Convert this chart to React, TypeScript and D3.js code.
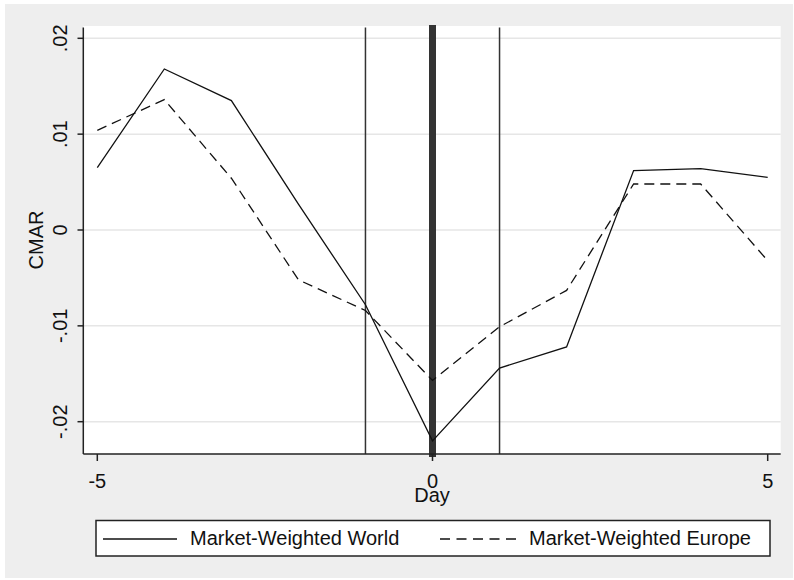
import React from "react";
import * as d3 from "d3";

const days = [-5, -4, -3, -2, -1, 0, 1, 2, 3, 4, 5];
const worldCMAR = [0.0065, 0.0168, 0.0135, 0.0027, -0.0078, -0.022, -0.0144, -0.0122, 0.0062, 0.0064, 0.0055];
const europeCMAR = [0.0104, 0.0136, 0.0054, -0.0052, -0.0084, -0.0157, -0.0101, -0.0063, 0.0048, 0.0048, -0.0032];
const xTicks = [-5, 0, 5];
const yTicks = [-0.02, -0.01, 0, 0.01, 0.02];
const yTickLabels = ["-.02", "-.01", "0", ".01", ".02"];
const eventDays = [-1, 0, 1];
const seriesNames = ["Market-Weighted World", "Market-Weighted Europe"];

const W = 794;
const H = 580;
const plot = { left: 83.3, right: 780.7, top: 26, bottom: 454 };

export default function App() {
  const x = d3.scaleLinear().domain([-5, 5]).range([97.3, 767.7]);
  const y = d3.scaleLinear().domain([-0.02, 0.02]).range([421.7, 38.3]);
  const line = d3
    .line<number>()
    .x((_, i) => x(days[i]))
    .y((d) => y(d));
  const font = "'Liberation Sans', Arial, sans-serif";
  const ink = "#111";
  const plotCx = (plot.left + plot.right) / 2;
  const plotCy = (plot.top + plot.bottom) / 2;

  return (
    <svg
      width={W}
      height={H}
      style={{ position: "absolute", left: 0, top: 0, background: "#fff" }}
      fontFamily={font}
    >
      <rect x={5} y={4} width={788} height={574} fill="#eeeeee" />
      <rect
        x={plot.left}
        y={plot.top}
        width={plot.right - plot.left}
        height={plot.bottom - plot.top}
        fill="#fff"
      />
      {yTicks.map((t) => (
        <line
          key={"g" + t}
          x1={plot.left}
          x2={plot.right}
          y1={y(t)}
          y2={y(t)}
          stroke="#e6e6e6"
          strokeWidth={1.5}
        />
      ))}
      {eventDays.map((d) => (
        <line
          key={"e" + d}
          x1={x(d)}
          x2={x(d)}
          y1={d === 0 ? 25 : 27.5}
          y2={d === 0 ? 457 : plot.bottom}
          stroke="#333"
          strokeWidth={d === 0 ? 7 : 1.5}
        />
      ))}
      <path d={line(worldCMAR) || ""} fill="none" stroke={ink} strokeWidth={1.3} />
      <path
        d={line(europeCMAR) || ""}
        fill="none"
        stroke={ink}
        strokeWidth={1.3}
        strokeDasharray="10,6"
      />
      {/* y axis */}
      <line x1={plot.left} x2={plot.left} y1={27.5} y2={plot.bottom} stroke="#222" strokeWidth={1.5} />
      {yTicks.map((t, i) => (
        <g key={"yt" + t}>
          <line x1={77.5} x2={plot.left} y1={y(t)} y2={y(t)} stroke="#222" strokeWidth={1.5} />
          <text
            transform={`translate(67,${y(t)}) rotate(-90)`}
            textAnchor="middle"
            fontSize={20}
            fill={ink}
          >
            {yTickLabels[i]}
          </text>
        </g>
      ))}
      <text
        transform={`translate(43.3,${plotCy}) rotate(-90)`}
        textAnchor="middle"
        fontSize={20}
        fill={ink}
      >
        CMAR
      </text>
      {/* x axis */}
      <line x1={plot.left} x2={plot.right} y1={plot.bottom} y2={plot.bottom} stroke="#222" strokeWidth={1.5} />
      {xTicks.map((t) => (
        <g key={"xt" + t}>
          <line x1={x(t)} x2={x(t)} y1={plot.bottom} y2={461} stroke="#222" strokeWidth={1.5} />
          <text x={x(t)} y={488} textAnchor="middle" fontSize={20} fill={ink}>
            {t}
          </text>
        </g>
      ))}
      <text x={plotCx} y={502} textAnchor="middle" fontSize={20} fill={ink}>
        Day
      </text>
      {/* legend */}
      <rect x={96} y={520.5} width={674} height={35.5} fill="#fff" stroke="#222" strokeWidth={1.5} />
      <line x1={103} x2={177} y1={539} y2={539} stroke={ink} strokeWidth={1.3} />
      <text x={190} y={545} fontSize={20} fill={ink}>
        {seriesNames[0]}
      </text>
      <line x1={440} x2={516} y1={539} y2={539} stroke={ink} strokeWidth={1.3} strokeDasharray="10,6.5" />
      <text x={529} y={545} fontSize={20} fill={ink}>
        {seriesNames[1]}
      </text>
    </svg>
  );
}
